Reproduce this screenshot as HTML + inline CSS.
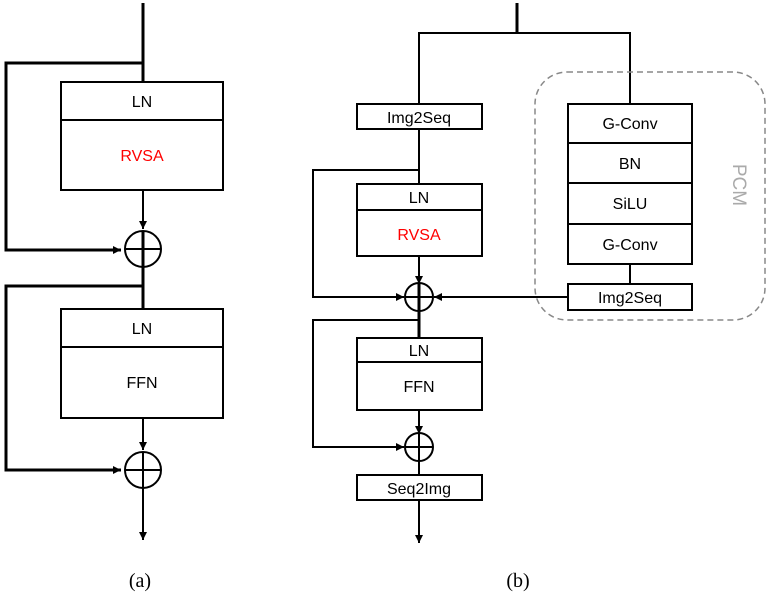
<!DOCTYPE html>
<html><head><style>body{margin:0;background:#fff}svg{display:block}</style></head><body>
<svg width="769" height="597" xmlns="http://www.w3.org/2000/svg" font-family="Liberation Sans, sans-serif">
<defs><marker id="ar" markerWidth="10" markerHeight="10" refX="9" refY="5" orient="auto" markerUnits="userSpaceOnUse"><path d="M1,1 L9,5 L1,9 z" fill="#000"/></marker></defs>
<g stroke="#000" fill="none">
<!-- (a) -->
<line x1="143" y1="3" x2="143" y2="82" stroke-width="3"/>
<polyline points="143,63 6,63 6,250 121,250" stroke-width="3" marker-end="url(#ar)"/>
<rect x="61" y="82" width="162" height="108" stroke-width="2"/>
<line x1="61" y1="120" x2="223" y2="120" stroke-width="2"/>
<line x1="143" y1="190" x2="143" y2="229" stroke-width="2" marker-end="url(#ar)"/>
<circle cx="143" cy="249" r="18" stroke-width="2"/>
<line x1="125" y1="249" x2="161" y2="249" stroke-width="2"/>
<line x1="143" y1="231" x2="143" y2="309" stroke-width="3"/>
<polyline points="143,286 6,286 6,470 121,470" stroke-width="3" marker-end="url(#ar)"/>
<rect x="61" y="309" width="162" height="109" stroke-width="2"/>
<line x1="61" y1="347" x2="223" y2="347" stroke-width="2"/>
<line x1="143" y1="418" x2="143" y2="450" stroke-width="2" marker-end="url(#ar)"/>
<circle cx="143" cy="470" r="18" stroke-width="2"/>
<line x1="125" y1="470" x2="161" y2="470" stroke-width="2"/>
<line x1="143" y1="452" x2="143" y2="540" stroke-width="2" marker-end="url(#ar)"/>
<!-- (b) -->
<line x1="517" y1="3" x2="517" y2="33" stroke-width="3"/>
<polyline points="419,104 419,33 630,33 630,104" stroke-width="2"/>
<rect x="357" y="104" width="125" height="25" stroke-width="2"/>
<line x1="419" y1="129" x2="419" y2="184" stroke-width="2"/>
<polyline points="419,170 313,170 313,297 404,297" stroke-width="2" marker-end="url(#ar)"/>
<rect x="357" y="184" width="125" height="72" stroke-width="2"/>
<line x1="357" y1="210" x2="482" y2="210" stroke-width="2"/>
<line x1="419" y1="256" x2="419" y2="284" stroke-width="2" marker-end="url(#ar)"/>
<circle cx="419" cy="297" r="14" stroke-width="2"/>
<line x1="405" y1="297" x2="433" y2="297" stroke-width="2"/>
<line x1="568" y1="297" x2="434" y2="297" stroke-width="2" marker-end="url(#ar)"/>
<line x1="419" y1="283" x2="419" y2="338" stroke-width="3"/>
<polyline points="419,320 313,320 313,447 404,447" stroke-width="2" marker-end="url(#ar)"/>
<rect x="357" y="338" width="125" height="72" stroke-width="2"/>
<line x1="357" y1="362" x2="482" y2="362" stroke-width="2"/>
<line x1="419" y1="410" x2="419" y2="434" stroke-width="2" marker-end="url(#ar)"/>
<circle cx="419" cy="447" r="14" stroke-width="2"/>
<line x1="405" y1="447" x2="433" y2="447" stroke-width="2"/>
<line x1="419" y1="433" x2="419" y2="475" stroke-width="2"/>
<rect x="357" y="475" width="125" height="25" stroke-width="2"/>
<line x1="419" y1="500" x2="419" y2="543" stroke-width="2" marker-end="url(#ar)"/>
<rect x="568" y="104" width="124" height="160" stroke-width="2"/>
<line x1="568" y1="143" x2="692" y2="143" stroke-width="2"/>
<line x1="568" y1="183" x2="692" y2="183" stroke-width="2"/>
<line x1="568" y1="224" x2="692" y2="224" stroke-width="2"/>
<line x1="630" y1="264" x2="630" y2="284" stroke-width="2"/>
<rect x="568" y="284" width="124" height="26" stroke-width="2"/>
<rect x="535" y="72" width="230" height="248" rx="32" stroke="#888" stroke-width="1.5" stroke-dasharray="6,4"/>
</g>
<g font-size="16" text-anchor="middle" fill="#000">
<text x="142" y="107">LN</text>
<text x="142" y="161" fill="#f00">RVSA</text>
<text x="142" y="334">LN</text>
<text x="142" y="388">FFN</text>
<text x="419" y="123">Img2Seq</text>
<text x="419" y="203">LN</text>
<text x="419" y="240" fill="#f00">RVSA</text>
<text x="419" y="356">LN</text>
<text x="419" y="392">FFN</text>
<text x="419" y="494">Seq2Img</text>
<text x="630" y="129">G-Conv</text>
<text x="630" y="169">BN</text>
<text x="630" y="209">SiLU</text>
<text x="630" y="250">G-Conv</text>
<text x="630" y="303">Img2Seq</text>
<text x="733" y="185" fill="#aaa" font-size="19" transform="rotate(90 733 185)">PCM</text>
<text x="140" y="587" font-family="Liberation Serif, serif" font-size="20">(a)</text>
<text x="518" y="587" font-family="Liberation Serif, serif" font-size="20">(b)</text>
</g>
</svg>
</body></html>
